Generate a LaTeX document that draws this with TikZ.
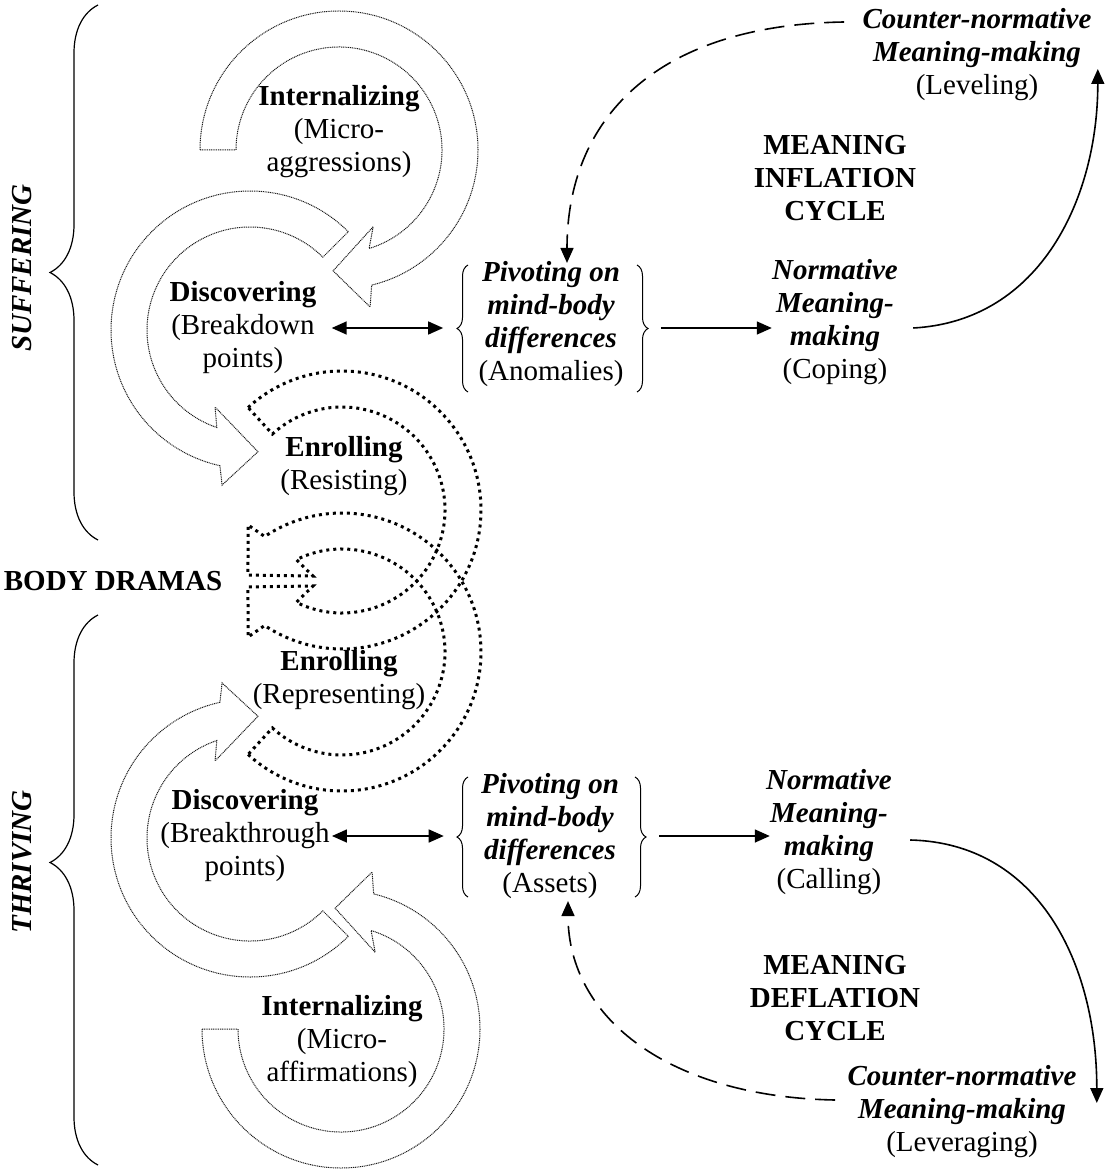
\documentclass[tikz,border=0pt]{standalone}
\usepackage{fontspec}
\setmainfont{Liberation Serif}
\usetikzlibrary{arrows.meta,decorations.pathreplacing,calc}
\newcommand\bitext[1]{{\bfseries\itshape #1}}
\begin{document}
\begin{tikzpicture}[x=0.5pt,y=0.5pt,
  every node/.style={inner sep=0pt, align=center, font=\fontsize{14.5pt}{16.5pt}\selectfont},
  bi/.style={font=\fontsize{14.5pt}{16.5pt}\selectfont\bfseries\itshape},
  bd/.style={font=\fontsize{14.5pt}{16.5pt}\selectfont\bfseries},
  thindot/.style={draw=black!90, line width=0.5pt, dash pattern=on 0.5pt off 0.4pt},
  thickdot/.style={draw=black, line width=1.5pt, dash pattern=on 1.5pt off 2pt},
  arr/.style={line width=0.75pt, -{Triangle[length=7.5pt,width=6.5pt]}},
  dblarr/.style={line width=0.75pt, {Triangle[length=7.5pt,width=6.5pt]}-{Triangle[length=7.5pt,width=6.5pt]}},
  dasharr/.style={line width=0.8pt, dash pattern=on 10pt off 5pt, -{Triangle[length=7.5pt,width=6.5pt]}},
  solidcurve/.style={line width=0.8pt, -{Triangle[length=7.5pt,width=6.5pt]}},
  smallbrace/.style={decorate, decoration={brace, amplitude=5.5pt}, line width=0.5pt}
]
\useasboundingbox (0,0) rectangle (1107,-1171);

% ---------- block arrows ----------
% top internalizing
\draw[thindot,shift={(339,-150)}] (180:139) arc[start angle=180,end angle=-76.4,radius=139]
  -- (-78.8:160) -- (-92.8:121) -- (-66:84) -- (-73:103)
  arc[start angle=-73,end angle=180,radius=103] -- cycle;
% upper discovering
\draw[thindot,shift={(250,-330)}] (45:139) arc[start angle=45,end angle=257.5,radius=139]
  -- (259.8:157.5) -- (273.75:122) -- (245.6:84.6) -- (251.2:103)
  arc[start angle=251.2,end angle=45,radius=103] -- cycle;
% lower discovering
\draw[thindot,shift={(250,-838)}] (-45:139) arc[start angle=-45,end angle=-257.5,radius=139]
  -- (-259.8:157.5) -- (-273.75:122) -- (-245.6:84.6) -- (-251.2:103)
  arc[start angle=-251.2,end angle=-45,radius=103] -- cycle;
% bottom internalizing
\draw[thindot,shift={(341,-1029)}] (-180:139) arc[start angle=-180,end angle=76.4,radius=139]
  -- (78.8:160) -- (92.8:121) -- (66:84) -- (73:103)
  arc[start angle=73,end angle=-180,radius=103] -- cycle;
% upper enrolling
\draw[thickdot,shift={(342,-510)}] (132.5:139) arc[start angle=132.5,end angle=-123.8,radius=139]
  -- (-126.5:158) -- (-140.7:121.5) -- (-110.9:81.3) -- (-116.3:103)
  arc[start angle=-116.3,end angle=132.5,radius=103] -- cycle;
% lower enrolling
\draw[thickdot,shift={(342,-652)}] (-132.5:139) arc[start angle=-132.5,end angle=123.8,radius=139]
  -- (126.5:158) -- (140.7:121.5) -- (110.9:81.3) -- (116.3:103)
  arc[start angle=116.3,end angle=-132.5,radius=103] -- cycle;

% ---------- left labels ----------
\node (int1) at (339,-132) {\textbf{Internalizing}\\(Micro-\\aggressions)};
\node (disc1) at (243,-328) {\textbf{Discovering}\\(Breakdown\\points)};
\node (enr1) at (344,-466) {\textbf{Enrolling}\\(Resisting)};
\node[bd] (body) at (113,-581) {BODY DRAMAS};
\node (enr2) at (339,-680) {\textbf{Enrolling}\\(Representing)};
\node (disc2) at (245,-836) {\textbf{Discovering}\\(Breakthrough\\points)};
\node (int2) at (342,-1042) {\textbf{Internalizing}\\(Micro-\\affirmations)};

\node[bi,rotate=90] (suff) at (22,-268) {SUFFERING};
\node[bi,rotate=90] (thr) at (22,-862) {THRIVING};
\draw[decorate,decoration={brace,amplitude=24pt},line width=0.6pt] (98,-540) -- (98,-5);
\draw[decorate,decoration={brace,amplitude=24pt,aspect=0.55},line width=0.6pt] (98,-1165) -- (98,-615);

% ---------- right side, upper ----------
\node (piv1) at (551,-324) {\bitext{Pivoting on}\\\bitext{mind-body}\\\bitext{differences}\\(Anomalies)};
\draw[smallbrace] (468,-392) -- (468,-265);
\draw[smallbrace] (637,-265) -- (637,-392);
\node (norm1) at (835,-322) {\bitext{Normative}\\\bitext{Meaning-}\\\bitext{making}\\(Coping)};
\node[bd] (infl) at (835,-178) {MEANING\\INFLATION\\CYCLE};
\node (cnt1) at (977,-55) {\bitext{Counter-normative}\\\bitext{Meaning-making}\\(Leveling)};

\draw[dblarr] ($(disc1.east)+(15,0)$) -- ($(disc1.east -| piv1.west)+(-35,0)$);
\draw[arr] ($(piv1.east |- disc1.east)+(37,0)$) -- (disc1.east -| norm1.west);
\draw[solidcurve] ($(norm1.east)+(15,-6)$) .. controls +(128,7) and +(0,-128) .. ($(cnt1.east)+(6,-14)$);
\draw[dasharr] ($(cnt1.west)+(-18,33)$) .. controls +(-190,-3) and +(0,143) .. ($(piv1.north)+(16,-2)$);

% ---------- right side, lower ----------
\node (piv2) at (550,-836) {\bitext{Pivoting on}\\\bitext{mind-body}\\\bitext{differences}\\(Assets)};
\draw[smallbrace] (468,-897) -- (468,-777);
\draw[smallbrace] (635,-777) -- (635,-897);
\node (norm2) at (829,-832) {\bitext{Normative}\\\bitext{Meaning-}\\\bitext{making}\\(Calling)};
\node[bd] (defl) at (835,-998) {MEANING\\DEFLATION\\CYCLE};
\node (cnt2) at (962,-1112) {\bitext{Counter-normative}\\\bitext{Meaning-making}\\(Leveraging)};

\draw[dblarr] ($(disc2.east)+(2,0)$) -- ($(disc2.east -| piv2.west)+(-37,0)$);
\draw[arr] ($(piv2.east |- disc2.east)+(40,0)$) -- ($(disc2.east -| norm2.west)+(4,0)$);
\draw[solidcurve] ($(norm2.east)+(18,-8)$) .. controls +(128,-3) and +(0,140) .. ($(cnt2.east)+(20,9)$);
\draw[dasharr] ($(cnt2.west)+(-12,12)$) .. controls +(-165,3) and +(0,-118) .. ($(piv2.south)+(18,-2)$);
\end{tikzpicture}
\end{document}
